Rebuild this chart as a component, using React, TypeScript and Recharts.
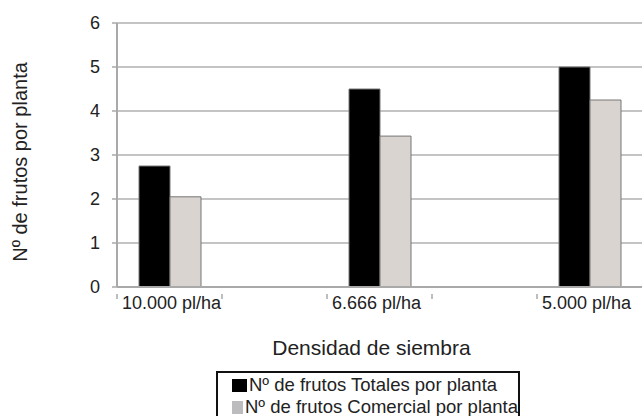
import React from "react";
import { BarChart, Bar, XAxis, YAxis, CartesianGrid, Legend } from "recharts";

const categories = ["10.000 pl/ha", "6.666 pl/ha", "5.000 pl/ha"];
const totales = [2.75, 4.5, 5.0];
const comercial = [2.05, 3.43, 4.25];
const yTicks = [0, 1, 2, 3, 4, 5, 6];

const seriesTotal = "Nº de frutos Totales por planta";
const seriesComercial = "Nº de frutos Comercial por planta";
const xTitle = "Densidad de siembra";
const yTitle = "Nº de frutos por planta";

// categories separated by empty slots, as in the original chart
const data: any[] = [];
categories.forEach((c, i) => {
  data.push({ name: c, total: totales[i], comercial: comercial[i] });
  if (i < categories.length - 1) data.push({ name: `gap${i}` });
});

const W = 642;
const H = 416;
const Y_AXIS_W = 117;
const X_AXIS_H = 129;
const FONT = "'Liberation Sans', Arial, sans-serif";
const TEXT = "#222";
const AXIS = "#a9a9a9";
const BAND = (W - Y_AXIS_W) / data.length;

const XTick = (props: any) => {
  const { x, y, payload } = props;
  const start = x - BAND / 2;
  const show = categories.includes(payload.value);
  return (
    <g>
      <line x1={start} y1={y - 1} x2={start} y2={y + 4} stroke={AXIS} strokeWidth={1.5} />
      {show && (
        <text x={start + 5} y={y + 14} fontSize={18} fill={TEXT} fontFamily={FONT} textAnchor="start">
          {payload.value}
        </text>
      )}
    </g>
  );
};

const LegendBox = () => (
  <div
    style={{
      border: "2px solid #111",
      width: 304,
      height: 48,
      boxSizing: "border-box",
      paddingLeft: 14,
      paddingTop: 1,
      fontFamily: FONT,
      fontSize: 18.5,
      color: TEXT,
      lineHeight: "22px",
      background: "#fff",
      whiteSpace: "nowrap",
    }}
  >
    <div style={{ display: "flex", alignItems: "center" }}>
      <span style={{ display: "inline-block", width: 15, height: 13, background: "#000", marginRight: 2 }} />
      <span>{seriesTotal}</span>
    </div>
    <div style={{ display: "flex", alignItems: "center" }}>
      <span style={{ display: "inline-block", width: 15, height: 13, background: "#bcbcbf", marginRight: 2 }} />
      <span>{seriesComercial}</span>
    </div>
  </div>
);

export default function App() {
  return (
    <div style={{ position: "absolute", left: 0, top: 0, width: W, height: H, overflow: "hidden", background: "#fff" }}>
      <BarChart
        width={W}
        height={H}
        data={data}
        margin={{ top: 23, right: 0, left: 0, bottom: 0 }}
        barGap={0}
        barSize={31}
      >
        <CartesianGrid horizontal vertical={false} stroke="#c4c4c4" strokeWidth={2} />
        <XAxis
          dataKey="name"
          height={X_AXIS_H}
          interval={0}
          tickLine={false}
          axisLine={{ stroke: AXIS, strokeWidth: 2 }}
          tick={<XTick />}
          label={{
            content: (p: any) => {
              const vb = p.viewBox;
              return (
                <text x={vb.x + vb.width / 2 - 8} y={vb.y + 68} textAnchor="middle" fontSize={21} fill={TEXT} fontFamily={FONT}>
                  {xTitle}
                </text>
              );
            },
          }}
        />
        <YAxis
          width={Y_AXIS_W}
          domain={[0, 6]}
          ticks={yTicks}
          interval={0}
          tickSize={5}
          tickMargin={12}
          tickLine={{ stroke: AXIS, strokeWidth: 1.5 }}
          axisLine={{ stroke: AXIS, strokeWidth: 2 }}
          tick={{ fontSize: 18, fill: TEXT, fontFamily: FONT }}
          label={{
            content: (p: any) => {
              const vb = p.viewBox;
              const cx = vb.x + 27;
              const cy = vb.y + vb.height / 2 + 7;
              return (
                <text x={cx} y={cy} transform={`rotate(-90 ${cx} ${cy})`} textAnchor="middle" fontSize={20} fill={TEXT} fontFamily={FONT}>
                  {yTitle}
                </text>
              );
            },
          }}
        />
        <Legend
          layout="vertical"
          align="center"
          verticalAlign="middle"
          content={<LegendBox />}
          wrapperStyle={{ left: 216, top: 371, width: 304, height: 48 }}
        />
        <Bar dataKey="total" name={seriesTotal} fill="#000" stroke="#777" strokeWidth={1} isAnimationActive={false} />
        <Bar dataKey="comercial" name={seriesComercial} fill="#dad4d1" stroke="#777" strokeWidth={1} isAnimationActive={false} />
      </BarChart>
    </div>
  );
}
